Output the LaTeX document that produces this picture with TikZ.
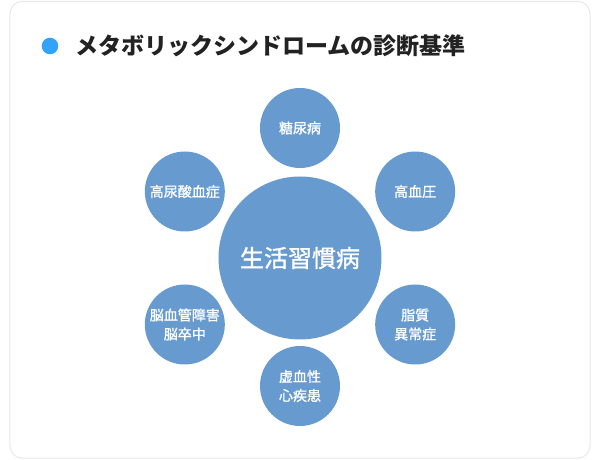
\documentclass[tikz,border=0pt]{standalone}
\usepackage{fontspec}
\setmainfont{Noto Sans CJK JP}
\newfontfamily\ballfont[FakeBold=1.2]{Noto Sans CJK JP}
\definecolor{ballblue}{RGB}{103,154,207}
\definecolor{dotblue}{RGB}{51,163,250}
\definecolor{cardline}{RGB}{232,232,232}
\definecolor{titleink}{RGB}{34,34,34}
\tikzset{
  sat/.style={circle,fill=ballblue,minimum size=80pt,inner sep=0pt,text=white,
    align=center,font=\ballfont\fontsize{14pt}{19pt}\selectfont},
  hub/.style={circle,fill=ballblue,minimum size=163pt,inner sep=0pt,text=white,
    font=\ballfont\fontsize{24pt}{28pt}\selectfont}
}
\begin{document}
\begin{tikzpicture}[x=1pt,y=1pt]
      \useasboundingbox (-300,-202) rectangle (300,258);
      \draw[cardline,line width=1pt,rounded corners=12pt] (-290,256.5) rectangle (290,-200);
      \fill[dotblue] (-250,212) circle (8.3);
      \node[anchor=west,text=titleink,font=\fontsize{23pt}{26pt}\selectfont\bfseries,inner sep=0pt] (title) at (-225,212) {メタボリックシンドロームの診断基準};
      \node[hub] (hub) at (0,0) {生活習慣病};
      \draw
        (90:130) node[sat] (tonyo){糖尿病}
        (30:133) node[sat] (koketsu){高血圧}
        (-30:133) node[sat] (shishitsu){脂質\\異常症}
        (-90:128) node[sat] (kyoketsu){虚血性\\心疾患}
        (-150:133) node[sat] (nokekkan){脳血管障害\\脳卒中}
        (150:133) node[sat] (nyosan){高尿酸血症};
    \end{tikzpicture}
\end{document}
